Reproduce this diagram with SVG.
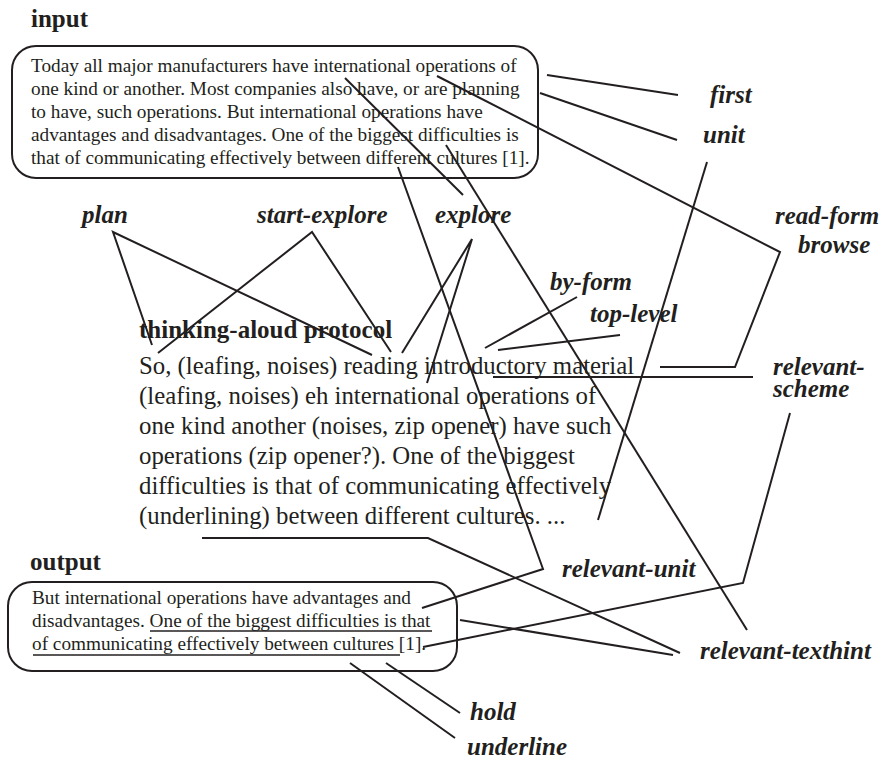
<svg xmlns="http://www.w3.org/2000/svg" width="881" height="760" viewBox="0 0 881 760">
<style>
text{font-family:"Liberation Serif","Times New Roman",serif;fill:#231f20}
.body{font-size:19.25px}
.proto{font-size:24.8px}
.title{font-size:25px;font-weight:bold}
.lbl{font-size:25px;font-weight:bold;font-style:italic}
.box{fill:none;stroke:#231f20;stroke-width:2}
.c{fill:none;stroke:#231f20;stroke-width:2}
.ul{stroke:#231f20;stroke-width:1.5}
</style>
<rect width="881" height="760" fill="#fff"/>
<g id="input">
<text class="title" x="31" y="27">input</text>
<rect class="box" x="12" y="46" width="526" height="132" rx="24"/>
<text class="body" x="31" y="72">Today all major manufacturers have international operations of</text>
<text class="body" x="31" y="95">one kind or another. Most companies also have, or are planning</text>
<text class="body" x="31" y="118">to have, such operations. But international operations have</text>
<text class="body" x="31" y="141">advantages and disadvantages. One of the biggest difficulties is</text>
<text class="body" x="31" y="164">that of communicating effectively between different cultures [1].</text>
</g>
<g id="protocol">
<text class="title" x="139" y="338">thinking-aloud protocol</text>
<text class="proto" x="139" y="374">So, (leafing, noises) reading introductory material</text>
<text class="proto" x="139" y="404">(leafing, noises) eh international operations of</text>
<text class="proto" x="139" y="434">one kind another (noises, zip opener) have such</text>
<text class="proto" x="139" y="464">operations (zip opener?). One of the biggest</text>
<text class="proto" x="139" y="494">difficulties is that of communicating effectively</text>
<text class="proto" x="139" y="524">(underlining) between different cultures. ...</text>
</g>
<g id="output">
<text class="title" x="30" y="570">output</text>
<rect class="box" x="8" y="582" width="449" height="89" rx="24"/>
<text class="body" x="32" y="604">But international operations have advantages and</text>
<text class="body" x="32" y="627">disadvantages. One of the biggest difficulties is that</text>
<text class="body" x="32" y="650">of communicating effectively between cultures [1].</text>
<line class="ul" x1="150" y1="631" x2="432" y2="631"/>
<line class="ul" x1="33" y1="655" x2="400" y2="655"/>
</g>
<g id="first"><text class="lbl" x="710" y="103">first</text></g>
<g id="unit"><text class="lbl" x="703" y="143">unit</text></g>
<g id="read-form"><text class="lbl" x="775" y="224">read-form</text><text class="lbl" x="798" y="253">browse</text></g>
<g id="plan"><text class="lbl" x="82" y="223">plan</text></g>
<g id="start-explore"><text class="lbl" x="257" y="223">start-explore</text></g>
<g id="explore"><text class="lbl" x="435" y="223">explore</text></g>
<g id="by-form"><text class="lbl" x="550" y="290">by-form</text></g>
<g id="top-level"><text class="lbl" x="590" y="322">top-level</text></g>
<g id="relevant-scheme"><text class="lbl" x="773" y="375">relevant-</text><text class="lbl" x="773" y="397">scheme</text></g>
<g id="relevant-unit"><text class="lbl" x="562" y="577">relevant-unit</text></g>
<g id="relevant-texthint"><text class="lbl" x="700" y="659">relevant-texthint</text></g>
<g id="hold"><text class="lbl" x="470" y="720">hold</text></g>
<g id="underline"><text class="lbl" x="467" y="755">underline</text></g>
<g id="connectors">
<path class="c" d="M547,75 L678,95"/>
<path class="c" d="M540,93 L677,140"/>
<path class="c" d="M707,162 L598,520"/>
<path class="c" d="M437,76 L780,252 L735,367 L660,367"/>
<path class="c" d="M345,78 L463,195"/>
<path class="c" d="M398,167 L543,569 L422,608"/>
<path class="c" d="M446,145 L747,630"/>
<path class="c" d="M152,345 L113,232 L372,355"/>
<path class="c" d="M158,353 L312,232 L391,352"/>
<path class="c" d="M402,353 L472,239 L427,383"/>
<path class="c" d="M485,348 L577,297"/>
<path class="c" d="M498,350 L620,335"/>
<path class="c" d="M493,377 L753,377"/>
<path class="c" d="M790,413 L743,583 L423,647"/>
<path class="c" d="M202,538 L428,538 L680,653"/>
<path class="c" d="M460,620 L673,655"/>
<path class="c" d="M386,663 L460,713"/>
<path class="c" d="M350,663 L455,738"/>
</g>
</svg>
